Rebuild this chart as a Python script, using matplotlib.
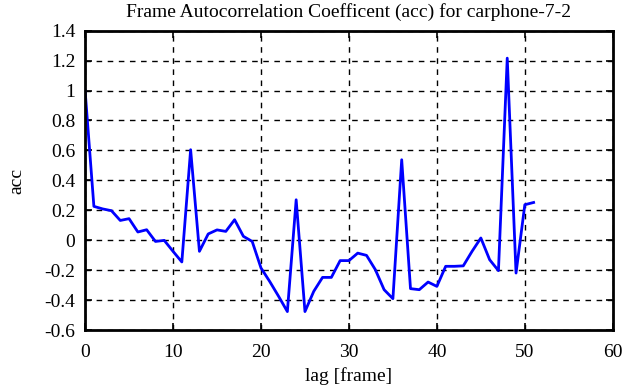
import matplotlib
matplotlib.use("Agg")
import matplotlib.pyplot as plt

lags = list(range(52))
acc = [1.0, 0.227, 0.21, 0.198, 0.133, 0.145, 0.056, 0.071, -0.007, -0.0,
       -0.073, -0.144, 0.605, -0.073, 0.043, 0.07, 0.06, 0.138, 0.027, -0.007,
       -0.184, -0.275, -0.373, -0.475, 0.271, -0.475, -0.34, -0.247, -0.247, -0.135,
       -0.135, -0.085, -0.1, -0.195, -0.329, -0.389, 0.538, -0.322, -0.329, -0.278,
       -0.307, -0.173, -0.173, -0.170, -0.073, 0.016, -0.129, -0.202, 1.216, -0.218,
       0.238, 0.253]
xticks = [0, 10, 20, 30, 40, 50, 60]
yticks = [-0.6, -0.4, -0.2, 0, 0.2, 0.4, 0.6, 0.8, 1, 1.2, 1.4]
ytick_labels = ["-0.6", "-0.4", "-0.2", "0", "0.2", "0.4", "0.6", "0.8", "1", "1.2", "1.4"]

plt.rcParams['font.family'] = ['Liberation Serif', 'DejaVu Serif']
fig = plt.figure(figsize=(6.35, 3.87), dpi=100)
ax = fig.add_axes([0.134, 0.1465, 0.831, 0.7745])
ax.plot(lags, acc, color='#0000ff', lw=2.0)
ax.set_xlim(0, 60)
ax.set_ylim(-0.6, 1.4)
ax.set_xticks(xticks)
ax.set_yticks(yticks)
ax.set_yticklabels(ytick_labels)
ax.grid(True, color='black', linestyle=(0, (4, 4)), lw=1.0)
ax.tick_params(direction='in', top=True, right=True, length=5, width=1.2, labelsize=14)
ax.tick_params(axis='x', pad=10)
ax.tick_params(axis='y', pad=7)
for s in ax.spines.values():
    s.set_linewidth(2)
ax.set_xlabel('lag [frame]', fontsize=14, labelpad=4)
ax.set_ylabel('acc', fontsize=14, labelpad=14)
ax.set_title('Frame Autocorrelation Coefficent (acc) for carphone-7-2', fontsize=14, pad=10)
fig.savefig('out.png', dpi=100)
